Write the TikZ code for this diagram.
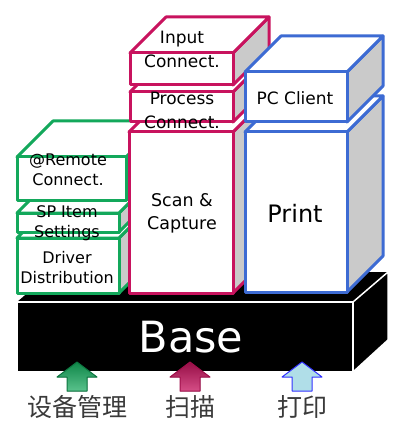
\documentclass[tikz,border=0pt]{standalone}
\usepackage{fontspec}
\setmainfont{DejaVu Sans}
\newfontfamily\cjk{Noto Sans CJK SC}
\definecolor{gr}{HTML}{13A85B}
\definecolor{pk}{HTML}{C8135E}
\definecolor{bl}{HTML}{3D6BD3}
\definecolor{sidegray}{HTML}{CACACA}
\definecolor{lbl}{HTML}{3A3A3A}
\definecolor{lightbl}{HTML}{B0DEE8}
\begin{document}
\begin{tikzpicture}[x=1pt,y=-1pt,line join=round,
  face/.style={line width=3pt},
  boxtext/.style={align=center,inner sep=0pt},
  cnlabel/.style={font=\cjk\fontsize{25}{25}\selectfont,text=lbl}]
\useasboundingbox (0,0) rectangle (400,430);
\def\dd{36}
\newcommand\drawcuboid[6]{%
  \filldraw[face,fill=sidegray,draw=#1] (#5,#4) -- (#5+\dd,#4-\dd) -- (#5+\dd,#6-\dd) -- (#5,#6) -- cycle;
  \filldraw[face,fill=white,draw=#1] (#3,#4) -- (#3+\dd,#4-\dd) -- (#5+\dd,#4-\dd) -- (#5,#4) -- cycle;
  \node[face,draw=#1,fill=white,inner sep=0pt,outer sep=0pt,minimum width={#5-#3},minimum height={#6-#4},anchor=north west] (#2) at (#3,#4) {};
}
% base
\fill[black] (17,302) -- (52,272) -- (388,272) -- (353,302) -- cycle;
\fill[black] (353,302) -- (388,272) -- (388,340) -- (353,372) -- cycle;
\draw[white,line width=1.5pt] (353,302) -- (388,272) -- (388,340) -- (353,372);
\node[fill=black,draw=white,line width=1.5pt,inner sep=0pt,outer sep=0pt,minimum width=336,minimum height=70,anchor=north west,text=white,font=\fontsize{43}{43}\selectfont] (base) at (17,302) {\hspace{12pt}Base};
% green stack
\drawcuboid{gr}{driver}{17}{238}{119}{293}
\drawcuboid{gr}{spitem}{17}{213}{119}{232}
\drawcuboid{gr}{remote}{17}{157}{126}{200}
% pink stack
\drawcuboid{pk}{scan}{129}{132}{233}{293}
\drawcuboid{pk}{process}{130}{92}{233}{122}
\drawcuboid{pk}{input}{130}{53}{233}{85}
% blue stack
\drawcuboid{bl}{print}{245}{132}{347}{292}
\drawcuboid{bl}{pcclient}{245}{72}{347}{122}
% texts
\node[boxtext,font=\fontsize{16}{20}\selectfont] (tremote) at (68,170) {@Remote\\Connect.};
\node[boxtext,font=\fontsize{16}{20}\selectfont] (tsp) at (67,223) {SP Item\\Settings};
\node[boxtext,font=\fontsize{16}{20}\selectfont] (tdriver) at (67,268) {Driver\\Distribution};
\node[boxtext,font=\fontsize{17}{24}\selectfont] (tinput) at (182,49) {Input\\Connect.};
\node[boxtext,font=\fontsize{17}{24}\selectfont] (tprocess) at (182,110) {Process\\Connect.};
\node[boxtext,font=\fontsize{17.5}{23}\selectfont] (tscan) at (182,213) {Scan \&\\Capture};
\node[boxtext,font=\fontsize{17}{20}\selectfont] (tpc) at (295,98) {PC Client};
\node[boxtext,font=\fontsize{24}{24}\selectfont] (tprint) at (295,213) {Print};
% arrows
\filldraw[line width=1pt,draw=gr!70!black,top color=gr!80!black,bottom color=gr!70!white] (77,362) -- (97,377) -- (87,377) -- (87,391) -- (67,391) -- (67,377) -- (57,377) -- cycle;
\filldraw[line width=1pt,draw=pk!80!black,top color=pk!75!black,bottom color=pk!75!white] (190,362) -- (210,377) -- (200,377) -- (200,391) -- (180,391) -- (180,377) -- (170,377) -- cycle;
\filldraw[line width=1pt,draw=blue!80!white,fill=lightbl] (302,362) -- (322,377) -- (312,377) -- (312,391) -- (292,391) -- (292,377) -- (282,377) -- cycle;
% labels
\node[cnlabel] (l1) at (77,407) {设备管理};
\node[cnlabel] (l2) at (190,407) {扫描};
\node[cnlabel] (l3) at (302,407) {打印};
\end{tikzpicture}
\end{document}
